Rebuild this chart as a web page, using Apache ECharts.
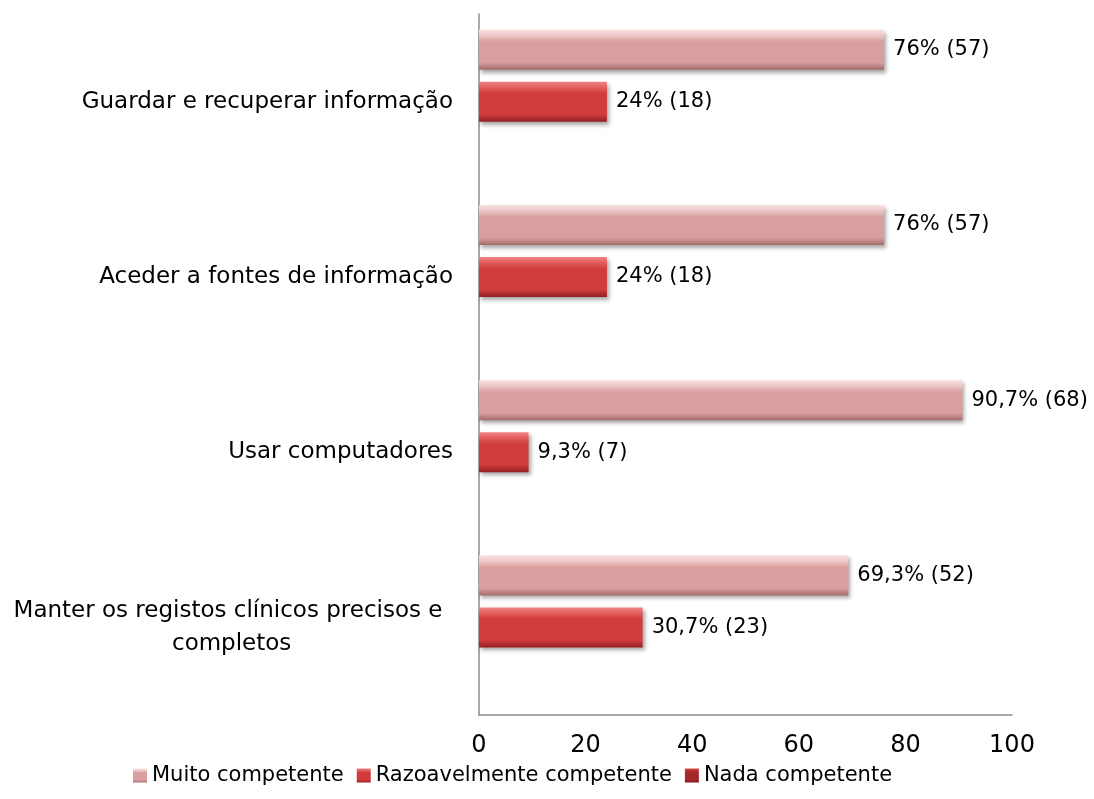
<!DOCTYPE html>
<html>
<head>
<meta charset="utf-8">
<script src="https://cdn.jsdelivr.net/npm/echarts@6/dist/echarts.min.js"></script>
<style>
  html, body { margin: 0; padding: 0; background: #fff; }
  #chart { width: 1094px; height: 799px; }
</style>
</head>
<body>
<div id="chart"></div>
<script>
(function() {
  var categories = ['Manter os registos clínicos precisos e completos', 'Usar computadores', 'Aceder a fontes de informação', 'Guardar e recuperar informação'];
  var seriesNames = ['Muito competente', 'Razoavelmente competente', 'Nada competente'];
  var muitoPct = [69.3, 90.7, 76, 76];
  var muitoN = [52, 68, 57, 57];
  var razoPct = [30.7, 9.3, 24, 24];
  var razoN = [23, 7, 18, 18];
  var nadaPct = [0, 0, 0, 0];
  var xTicks = [0, 20, 40, 60, 80, 100];

  var font = 'DejaVu Sans';
  var myChart = echarts.init(document.getElementById('chart'));

  function grad(top, light, base, dark) {
    return new echarts.graphic.LinearGradient(0, 0, 0, 1, [
      {offset: 0, color: top},
      {offset: 0.15, color: light},
      {offset: 0.3, color: base},
      {offset: 0.82, color: base},
      {offset: 1, color: dark}
    ]);
  }

  function makeLabel(counts) {
    return {
      show: true,
      position: 'right',
      distance: 9,
      color: '#000',
      fontFamily: font,
      fontSize: 21,
      formatter: function(p) {
        return String(p.value).replace('.', ',') + '% (' + counts[p.dataIndex] + ')';
      }
    };
  }

  var shadow = {shadowColor: 'rgba(0,0,0,0.35)', shadowBlur: 4, shadowOffsetX: 2, shadowOffsetY: 3};

  // long label: wrap and centre its lines like the original
  var yData = categories.map(function(c, i) {
    if (i === 0) {
      return {value: c, textStyle: {align: 'center', width: 450, overflow: 'break', padding: [0, 450, 0, 0], lineHeight: 33}};
    }
    return c;
  });

  var option = {
    animation: false,
    textStyle: {fontFamily: font},
    grid: {left: 478, right: 82, top: 14, bottom: 84},
    legend: {
      data: seriesNames,
      bottom: 8,
      left: 128,
      icon: 'rect',
      itemWidth: 14,
      itemHeight: 14,
      itemGap: 13,
      textStyle: {color: '#000', fontSize: 21, fontFamily: font}
    },
    xAxis: {
      type: 'value',
      min: xTicks[0],
      max: xTicks[xTicks.length - 1],
      interval: 20,
      axisLine: {show: true, lineStyle: {color: '#8c8c8c', width: 1.5}},
      axisTick: {show: false},
      splitLine: {show: false},
      axisLabel: {color: '#000', fontSize: 24, fontFamily: font, margin: 19}
    },
    yAxis: {
      type: 'category',
      data: yData,
      axisLine: {show: true, lineStyle: {color: '#8c8c8c', width: 1.5}},
      axisTick: {show: false},
      axisLabel: {color: '#000', fontSize: 23, fontFamily: font, margin: 26}
    },
    series: [
      {
        name: seriesNames[0],
        type: 'bar',
        barWidth: 40,
        barGap: '30%',
        data: muitoPct,
        itemStyle: Object.assign({color: grad('#f8e2e2', '#edc6c6', '#d99f9f', '#a66c6c')}, shadow),
        label: makeLabel(muitoN)
      },
      {
        name: seriesNames[1],
        type: 'bar',
        barWidth: 40,
        barGap: '30%',
        data: razoPct,
        itemStyle: Object.assign({color: grad('#f28484', '#e25c5c', '#d03b3b', '#942020')}, shadow),
        label: makeLabel(razoN)
      },
      {
        name: seriesNames[2],
        type: 'bar',
        barWidth: 40,
        barGap: '30%',
        data: nadaPct,
        itemStyle: {color: grad('#d05050', '#b83030', '#a52828', '#701515')},
        label: {show: false}
      }
    ]
  };

  myChart.setOption(option);
  window.addEventListener('resize', function() {
    myChart.resize();
  });
})();
</script>
</body>
</html>
